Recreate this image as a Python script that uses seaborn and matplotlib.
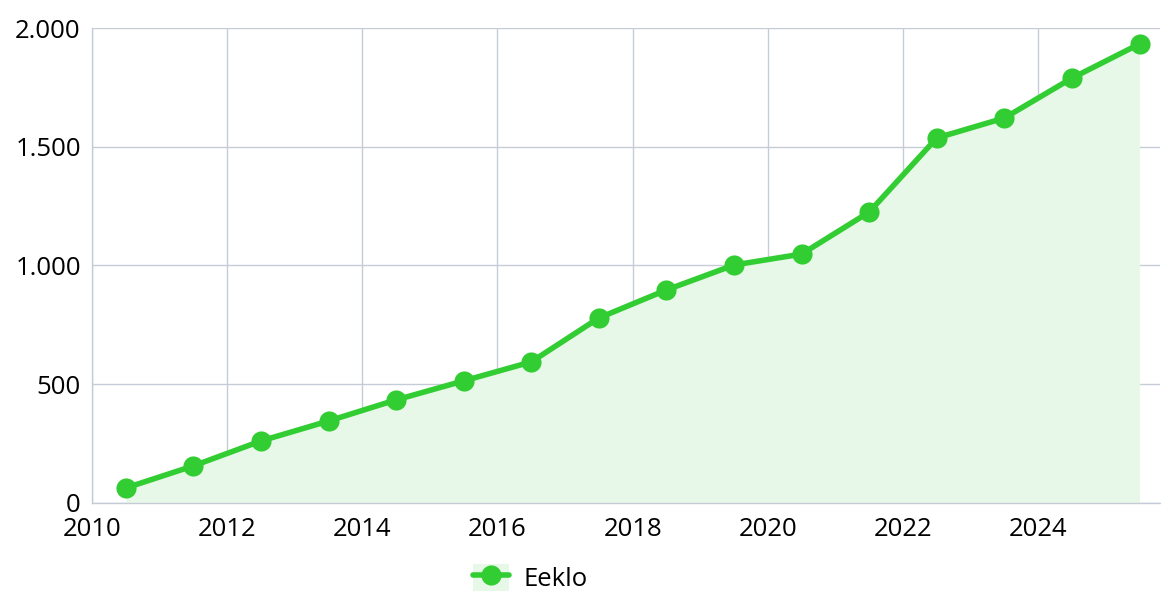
import pandas as pd
import matplotlib.pyplot as plt
import seaborn as sns
from matplotlib.patches import Patch
from matplotlib.lines import Line2D
from matplotlib.ticker import FuncFormatter

# Data
years = [2010.5, 2011.5, 2012.5, 2013.5, 2014.5, 2015.5, 2016.5, 2017.5,
         2018.5, 2019.5, 2020.5, 2021.5, 2022.5, 2023.5, 2024.5, 2025.5]
values = [63, 156, 261, 345, 434, 514, 594, 779,
          897, 1002, 1048, 1225, 1537, 1621, 1789, 1933]
series_name = 'Eeklo'
x_ticks = [2010, 2012, 2014, 2016, 2018, 2020, 2022, 2024]
y_ticks = [0, 500, 1000, 1500, 2000]

df = pd.DataFrame({'year': years, 'value': values})

sns.set_style('white')
plt.rcParams['font.family'] = ['Open Sans', 'DejaVu Sans']

green = '#32CD32'
fill_green = '#E8F8E8'
grid_color = '#C5CCD8'

fig = plt.figure(figsize=(11.61, 5.91), dpi=100)
ax = fig.add_axes([0.0792, 0.149, 0.9198, 0.8036])

ax.fill_between(df['year'], df['value'], 0, color=fill_green, zorder=1, linewidth=0)
sns.lineplot(data=df, x='year', y='value', ax=ax, color=green, linewidth=4,
             marker='o', markersize=14.5, markeredgewidth=0, zorder=3)

ax.set_xlim(2010, 2025.8)
ax.set_ylim(0, 2000)
ax.set_xticks(x_ticks)
ax.set_yticks(y_ticks)
ax.yaxis.set_major_formatter(FuncFormatter(lambda v, p: f'{int(v):,}'.replace(',', '.')))
ax.grid(True, color=grid_color, linewidth=1)
ax.set_axisbelow(True)
ax.tick_params(axis='both', length=0, labelsize=18.5, colors='black')
ax.tick_params(axis='y', pad=8)
ax.tick_params(axis='x', pad=10)
ax.set_xlabel('')
ax.set_ylabel('')
for side in ['top', 'right']:
    ax.spines[side].set_visible(False)
for side in ['left', 'bottom']:
    ax.spines[side].set_color(grid_color)
    ax.spines[side].set_linewidth(1)

handle = (Patch(facecolor=fill_green, edgecolor='none'),
          Line2D([], [], color=green, linewidth=4, marker='o', markersize=14.5, markeredgewidth=0))
fig.legend([handle], [series_name], loc='center', bbox_to_anchor=(0.457, 0.022),
           frameon=False, fontsize=18.5, handlelength=1.4, handleheight=1.3, handletextpad=0.55,
           labelcolor='black')

plt.savefig('out.png', dpi=100)
